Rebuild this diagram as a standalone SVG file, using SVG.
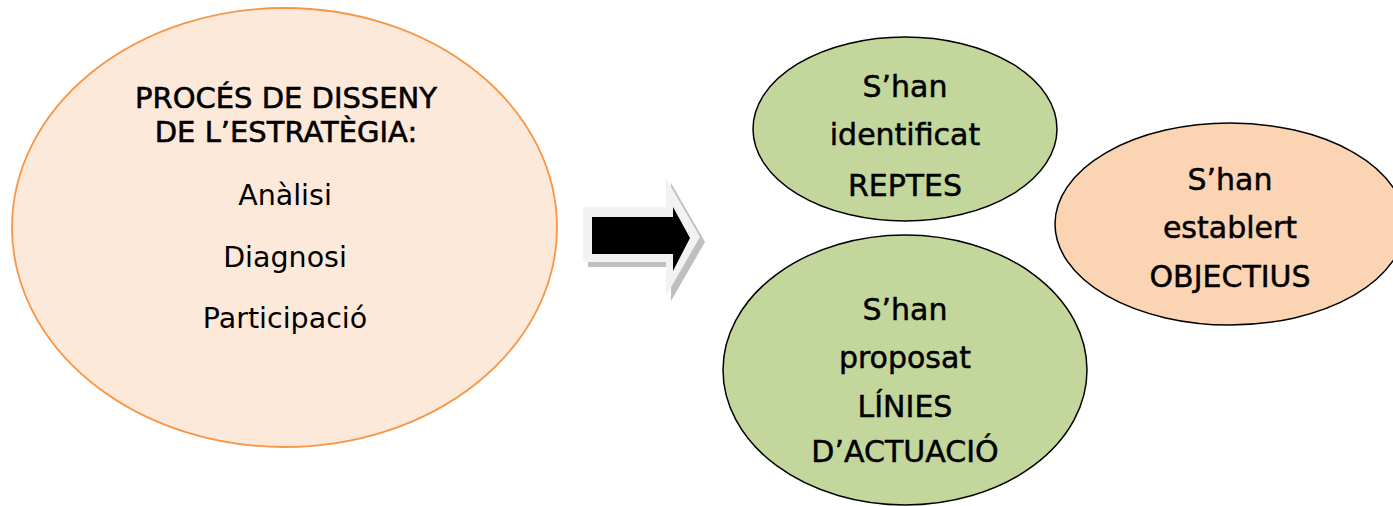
<svg xmlns="http://www.w3.org/2000/svg" width="1393" height="506" viewBox="0 0 1393 506">
<style>
text{font-family:"DejaVu Sans","Liberation Sans",sans-serif;fill:#000;text-anchor:middle}
.h{font-size:29px;stroke:#000;stroke-width:0.6}
.r{font-size:28.5px}
.g{font-size:30px;stroke:#000;stroke-width:0.5}
.node{stroke:#000;stroke-width:1.5}
</style>
<rect width="1393" height="506" fill="#fff"/>
<g id="proces">
<ellipse cx="284.5" cy="227.5" rx="272.5" ry="219.5" fill="#FDE9D9" stroke="#F79646" stroke-width="1.8"/>
<text class="h" x="286" y="108">PROCÉS DE DISSENY</text>
<text class="h" x="286" y="142">DE L’ESTRATÈGIA:</text>
<text class="r" x="285" y="205">Anàlisi</text>
<text class="r" x="285" y="267">Diagnosi</text>
<text class="r" x="285" y="328">Participació</text>
</g>
<g id="connectors">
<polygon points="588,212 671,212 671,183 705,242 671,301 671,267 588,267" fill="#BFBFBF"/>
<polygon points="583,207 666,207 666,178 700,237 666,296 666,262 583,262" fill="#F2F2F2"/>
<polygon points="592,217 673,217 673,207 690,238 673,271 673,254 592,254" fill="#000"/>
</g>
<g id="reptes">
<ellipse class="node" cx="905" cy="129" rx="152" ry="92" fill="#C3D69B"/>
<text class="g" x="905" y="97">S’han</text>
<text class="g" x="905" y="145">identificat</text>
<text class="g" x="905" y="196">REPTES</text>
</g>
<g id="linies">
<ellipse class="node" cx="905" cy="370" rx="182" ry="135" fill="#C3D69B"/>
<text class="g" x="905" y="320">S’han</text>
<text class="g" x="905" y="368">proposat</text>
<text class="g" x="905" y="417">LÍNIES</text>
<text class="g" x="905" y="462">D’ACTUACIÓ</text>
</g>
<g id="objectius">
<ellipse class="node" cx="1230" cy="224" rx="175" ry="101" fill="#FBD4B4"/>
<text class="g" x="1230" y="190">S’han</text>
<text class="g" x="1230" y="238">establert</text>
<text class="g" x="1230" y="287">OBJECTIUS</text>
</g>
</svg>
